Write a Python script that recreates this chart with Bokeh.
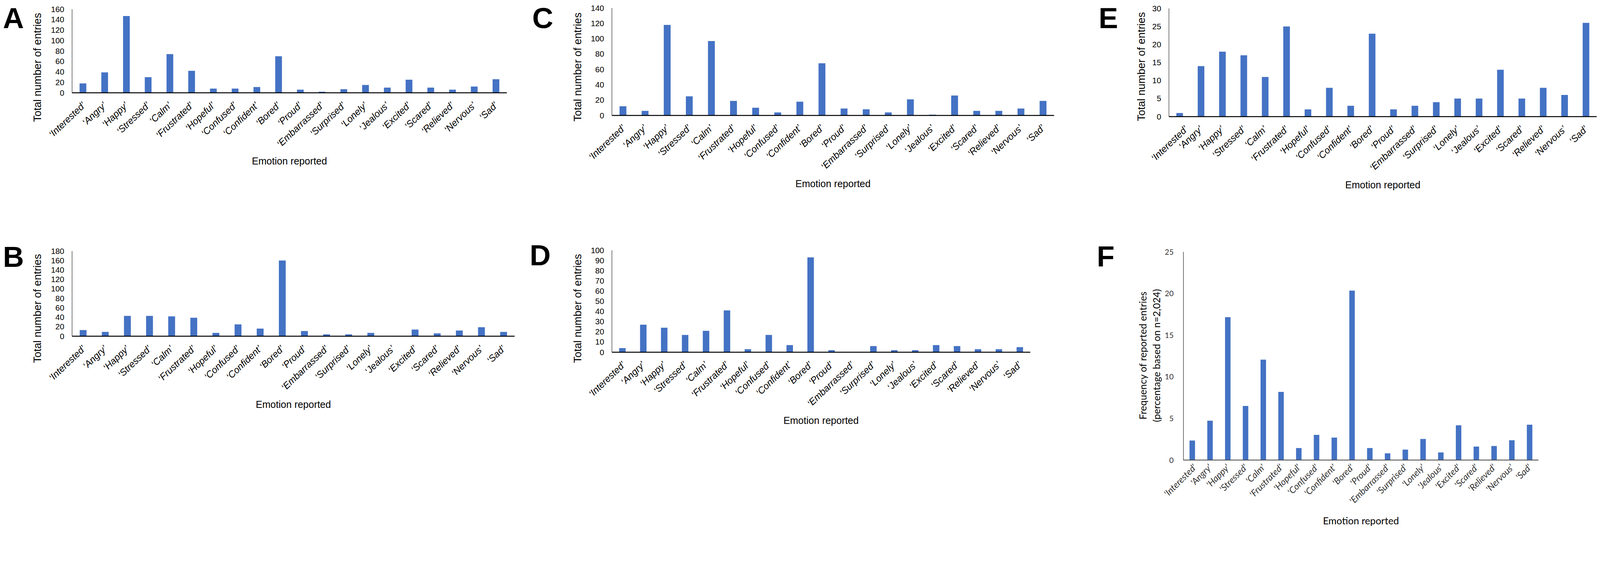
import math
from bokeh.plotting import figure
from bokeh.models import FactorRange, Range1d, FixedTicker, Div
from bokeh.embed import file_html
from bokeh.resources import INLINE
from bokeh.core.templates import get_env

# ---------------- data ----------------
emotions = ["Interested", "Angry", "Happy", "Stressed", "Calm", "Frustrated",
            "Hopeful", "Confused", "Confident", "Bored", "Proud", "Embarrassed",
            "Surprised", "Lonely", "Jealous", "Excited", "Scared", "Relieved",
            "Nervous", "Sad"]
cats_curly = ["\u2018" + e + "\u2019" for e in emotions]
cats_straight = ["'" + e + "'" for e in emotions]

a_entries = [18, 39, 147, 30, 74, 42, 8, 8, 11, 70, 6, 2, 7, 15, 10, 25, 10, 6, 12, 26]
b_entries = [13, 9, 43, 43, 42, 39, 7, 25, 16, 160, 11, 4, 4, 7, 0, 14, 6, 12, 19, 9]
c_entries = [12, 6, 118, 25, 97, 19, 10, 4, 18, 68, 9, 8, 4, 21, 1, 26, 6, 6, 9, 19]
d_entries = [4, 27, 24, 17, 21, 41, 3, 17, 7, 93, 2, 0, 6, 2, 2, 7, 6, 3, 3, 5]
e_entries = [1, 14, 18, 17, 11, 25, 2, 8, 3, 23, 2, 3, 4, 5, 5, 13, 5, 8, 6, 26]
f_percent = [2.35, 4.73, 17.16, 6.5, 12.06, 8.19, 1.44, 3.03, 2.7, 20.35, 1.44,
             0.81, 1.26, 2.53, 0.91, 4.17, 1.62, 1.69, 2.38, 4.25]

a_ticks = [0, 20, 40, 60, 80, 100, 120, 140, 160]
b_ticks = [0, 20, 40, 60, 80, 100, 120, 140, 160, 180]
c_ticks = [0, 20, 40, 60, 80, 100, 120, 140]
d_ticks = [0, 10, 20, 30, 40, 50, 60, 70, 80, 90, 100]
e_ticks = [0, 5, 10, 15, 20, 25, 30]
f_ticks = [0, 5, 10, 15, 20, 25]

panel_letters = ["A", "B", "C", "D", "E", "F"]
y_title = "Total number of entries"
x_title = "Emotion reported"
f_title_1 = "Frequency of reported entries"
f_title_2 = "(percentage based on n=2,024)"

BAR = "#4472C4"

# the page is photographed at a device scale of 4404/4096: design in image pixels, convert to CSS px
S = 4096.0 / 4404.0


def cs(v):
    return int(round(v * S))


def fs(v):
    return "%.2fpx" % (v * S)


def make_panel(cats, vals, ticks, frame, borders, style):
    fx0, fy0, fx1, fy1 = frame
    L, T, R, B = borders
    Lc, Tc, Rc, Bc = cs(L), cs(T), cs(R), cs(B)
    fwc, fhc = cs(fx1 - fx0), cs(fy1 - fy0)
    p = figure(x_range=FactorRange(*cats), y_range=Range1d(0, ticks[-1]),
               width=Lc + fwc + Rc, height=Tc + fhc + Bc,
               min_border_left=Lc, min_border_right=Rc,
               min_border_top=Tc, min_border_bottom=Bc,
               output_backend="svg", toolbar_location=None)
    p.title = None
    p.outline_line_color = None
    p.xgrid.grid_line_color = None
    p.ygrid.grid_line_color = None
    p.background_fill_color = "white"
    p.border_fill_color = None

    p.vbar(x=cats, top=vals, width=0.31, fill_color=BAR, line_color=None)

    if style == "excel":
        font = "Liberation Sans"
        tick_size, cat_size, xt_size = 22, 26, 27
        txt_col = "black"
        xline_w, xline_c = 2.5, "black"
        y_stand, x_stand, xl_stand = 22, 30, 4
        orient = 0.76
    else:
        font = "Lato"
        tick_size, cat_size, xt_size = 21, 25, 27
        txt_col = "#333333"
        xline_w, xline_c = 2, "#404040"
        y_stand, x_stand, xl_stand = 27, 15, 10
        orient = math.pi / 4

    ya = p.yaxis[0]
    ya.ticker = FixedTicker(ticks=ticks)
    ya.axis_line_color = "black"
    ya.axis_line_width = 1
    ya.major_tick_out = 0
    ya.major_tick_in = 0
    ya.minor_tick_out = 0
    ya.minor_tick_in = 0
    ya.major_label_standoff = cs(y_stand)
    ya.major_label_text_font = font
    ya.major_label_text_font_size = fs(tick_size)
    ya.major_label_text_color = txt_col

    xa = p.xaxis[0]
    xa.axis_line_color = xline_c
    xa.axis_line_width = xline_w * S
    xa.major_tick_out = 0
    xa.major_tick_in = 0
    xa.minor_tick_out = 0
    xa.minor_tick_in = 0
    xa.major_label_orientation = orient
    xa.major_label_standoff = cs(x_stand)
    xa.major_label_text_font = font
    xa.major_label_text_font_style = "italic"
    xa.major_label_text_font_size = fs(cat_size)
    xa.major_label_text_color = txt_col
    xa.axis_label = x_title
    xa.axis_label_standoff = cs(xl_stand)
    xa.axis_label_text_font = font
    xa.axis_label_text_font_style = "normal"
    xa.axis_label_text_font_size = fs(xt_size)
    xa.axis_label_text_color = "black"

    pos = (round(fx0 * S - Lc, 2), round(fy0 * S - Tc, 2))
    return p, pos


def make_letter(letter):
    return Div(text=letter, styles={"font-family": "'Liberation Sans', Arial, sans-serif",
                                    "font-size": fs(80), "font-weight": "bold",
                                    "line-height": "1.15", "color": "black",
                                    "margin": "0", "padding": "0"})


def make_vtitle(text, font, size, center):
    """Vertical (bottom-to-top) axis title as an HTML text block; returns (div, css position)."""
    W, H = 440.0, 1.2 * size
    d = Div(text=text, width=cs(W), height=cs(H),
            styles={"font-family": font, "font-size": fs(size), "color": "black",
                    "line-height": "%.2fpx" % (H * S), "text-align": "center",
                    "white-space": "nowrap", "width": "%.2fpx" % (W * S),
                    "height": "%.2fpx" % (H * S), "margin": "0", "padding": "0",
                    "transform": "rotate(-90deg)", "transform-origin": "50% 50%"})
    cx, cy = center
    return d, (round((cx - W / 2) * S, 2), round((cy - H / 2) * S, 2))


pA, posA = make_panel(cats_curly, a_entries, a_ticks, (198, 25, 1395, 255), (70, 20, 40, 230), "excel")
pC, posC = make_panel(cats_curly, c_entries, c_ticks, (1684, 22, 2901, 318), (70, 20, 40, 230), "excel")
pE, posE = make_panel(cats_curly, e_entries, e_ticks, (3217, 23, 4394, 321), (55, 20, 4, 230), "excel")
pB, posB = make_panel(cats_curly, b_entries, b_ticks, (198, 690, 1416, 924), (70, 40, 40, 230), "excel")
pD, posD = make_panel(cats_curly, d_entries, d_ticks, (1684, 688, 2836, 969), (70, 40, 40, 230), "excel")
pF, posF = make_panel(cats_straight, f_percent, f_ticks, (3257, 692, 4234, 1265), (60, 20, 40, 198), "calibri")

ARIAL = "'Liberation Sans', Arial, sans-serif"
LATO = "Lato, 'Open Sans', sans-serif"
vtitles = [make_vtitle(y_title, ARIAL, 29.5, c) for c in
           [(104.4, 185), (104.4, 849), (1591.4, 184), (1591.4, 849), (3142.4, 183)]]
vtitles.append(make_vtitle(f_title_1, LATO, 27, (3145, 979)))
vtitles.append(make_vtitle(f_title_2, LATO, 27, (3182, 979)))

letters = [make_letter(t) for t in panel_letters]
letter_pos = [(round(x * S, 2), round(y * S, 2)) for x, y in
              [(8, 4), (8, 661), (1465, 4), (1458, 657), (3024, 4), (3019, 660)]]

models = [pA, pB, pC, pD, pE, pF] + [v[0] for v in vtitles] + letters
positions = [posA, posB, posC, posD, posE, posF] + [v[1] for v in vtitles] + letter_pos

TEMPLATE = get_env().from_string("""{% extends base %}
{% block contents %}
{%- for root in roots %}
<div style="position:absolute; left:{{ positions[loop.index0][0] }}px; top:{{ positions[loop.index0][1] }}px;">
<div id="{{ root.elementid }}" style="display: contents;"></div>
</div>
{%- endfor %}
{% endblock %}
""")

open("out.html", "w").write(file_html(models, INLINE, "Emotions reported",
                                      template=TEMPLATE,
                                      template_variables={"positions": positions}))
